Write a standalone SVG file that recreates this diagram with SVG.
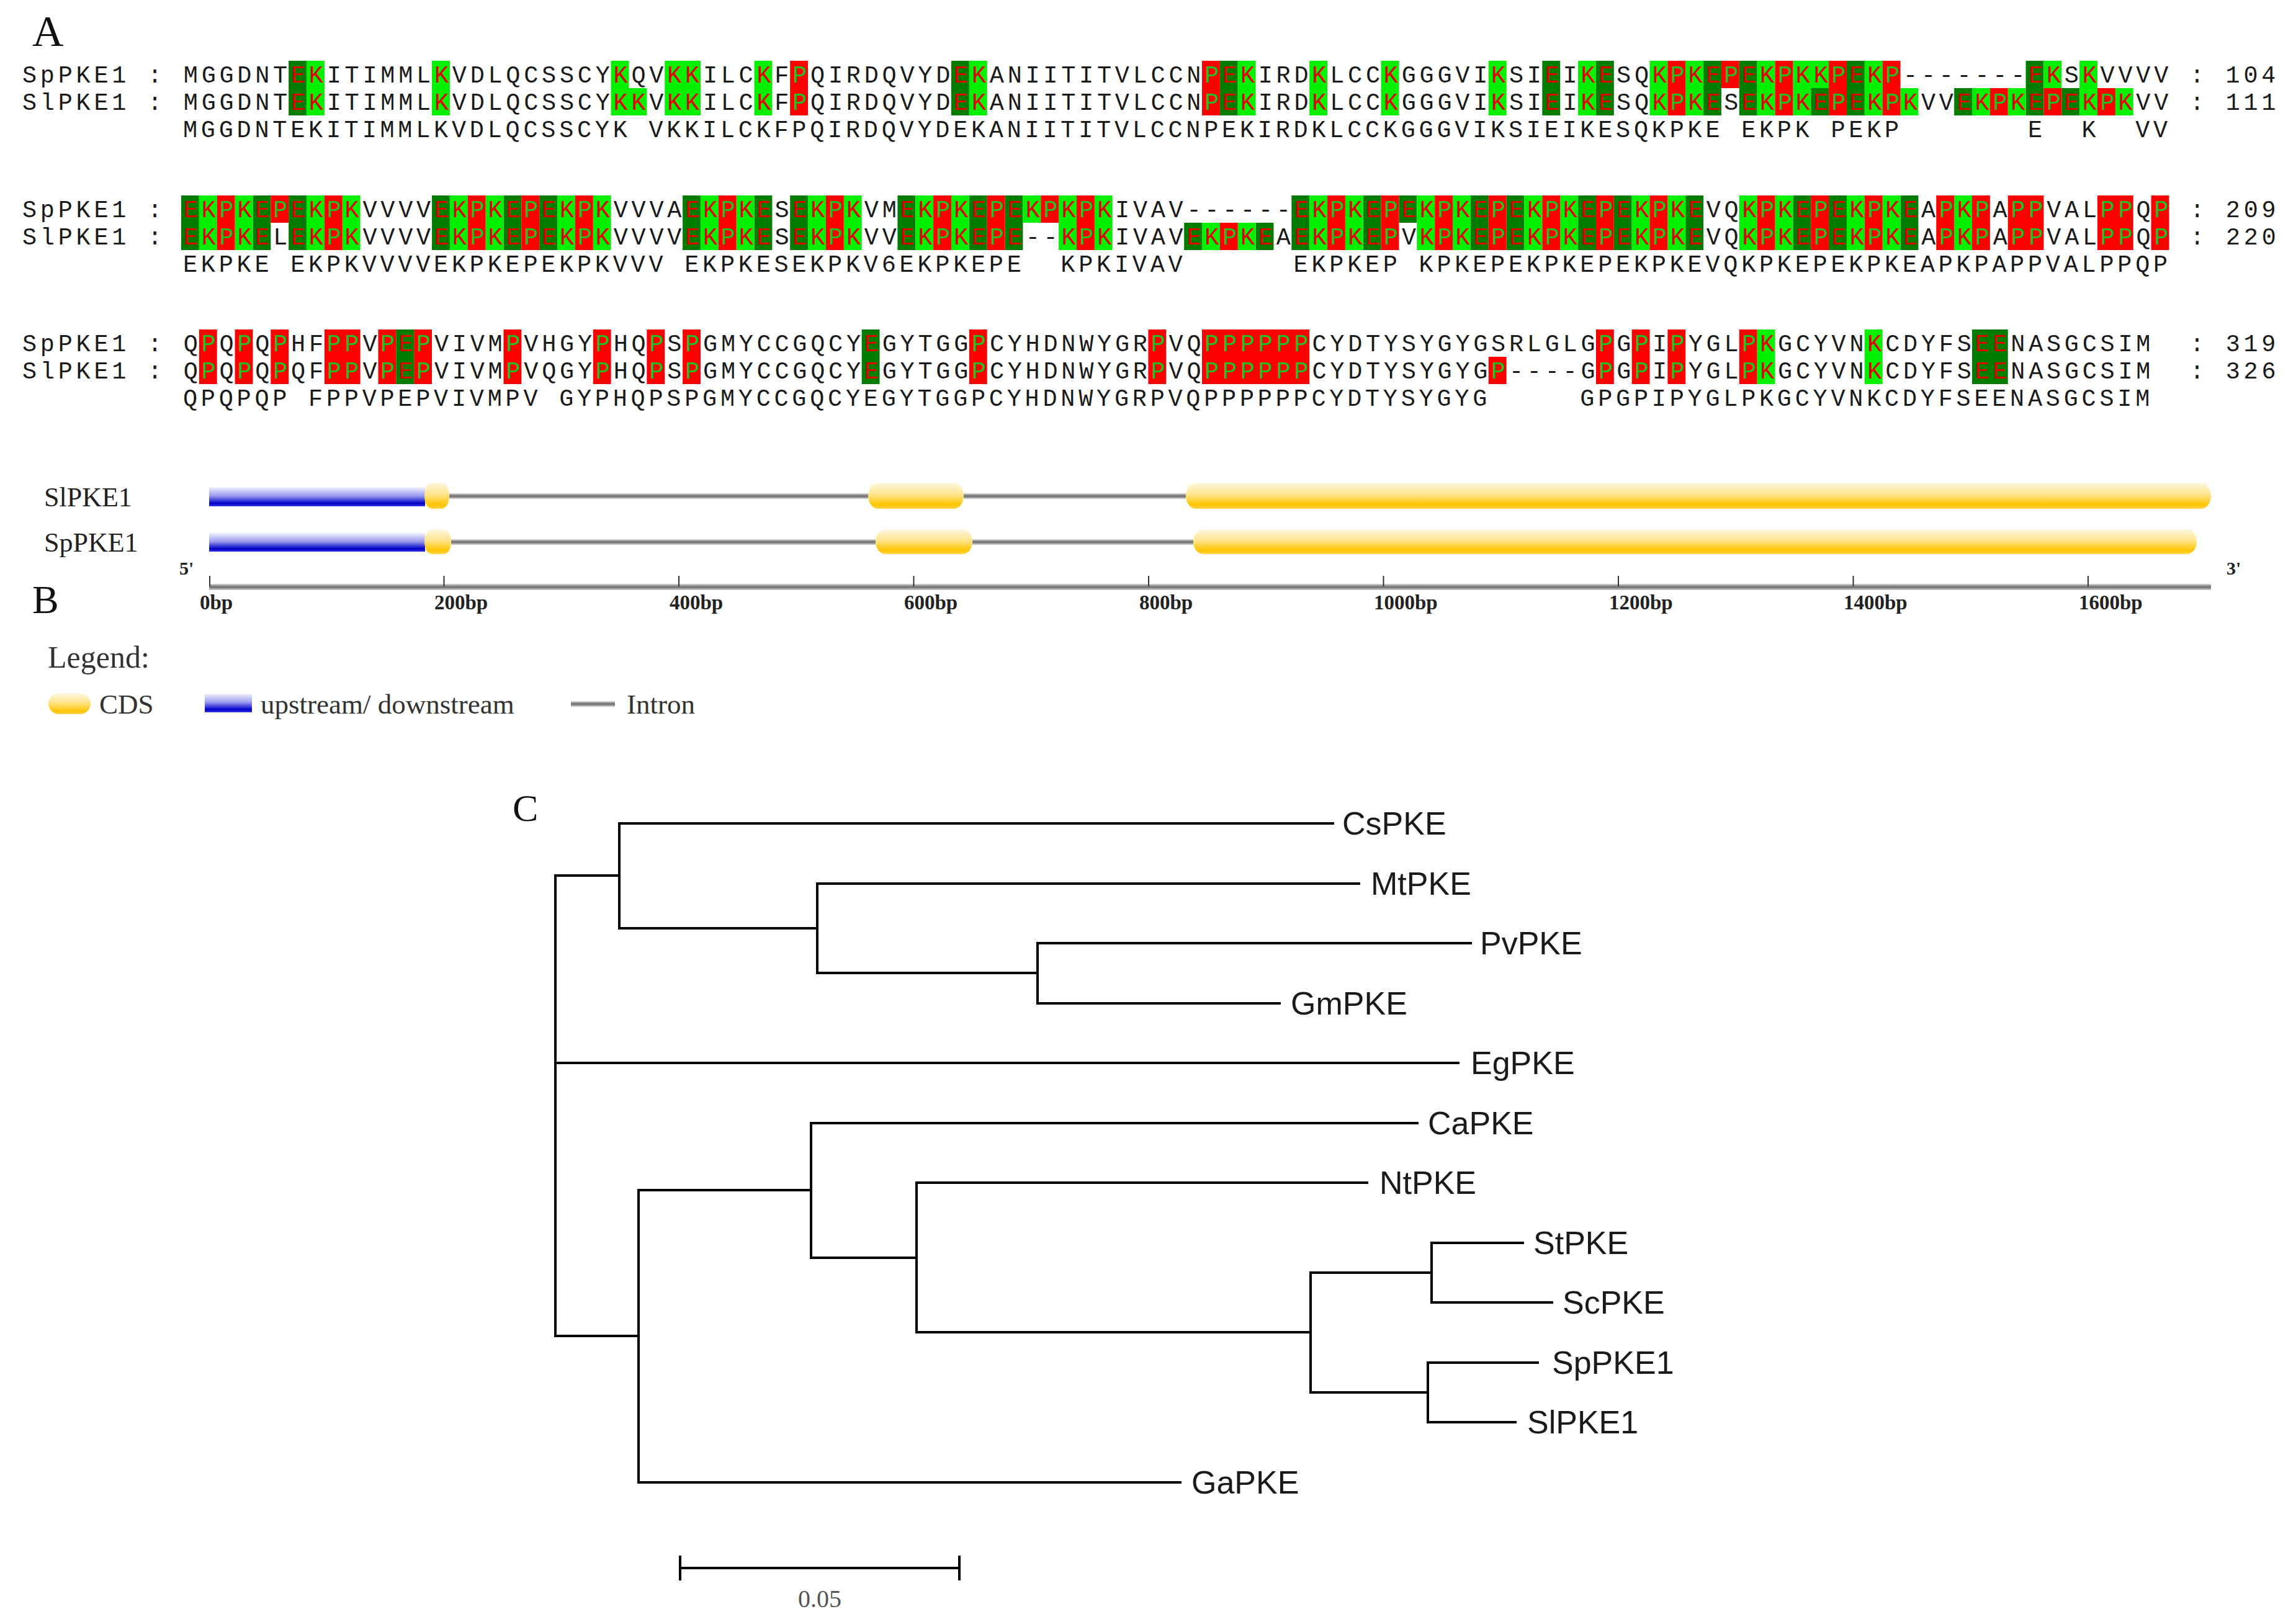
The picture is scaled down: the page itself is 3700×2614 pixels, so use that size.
<svg xmlns="http://www.w3.org/2000/svg" width="3700" height="2614" viewBox="0 0 3700 2614">
<defs>
<linearGradient id="gCds" x1="0" y1="0" x2="0" y2="1">
<stop offset="0" stop-color="#fff7e0"/><stop offset="0.45" stop-color="#ffe58c"/><stop offset="0.85" stop-color="#ffc400"/><stop offset="1" stop-color="#ffd650"/>
</linearGradient>
<linearGradient id="gUp" x1="0" y1="0" x2="0" y2="1">
<stop offset="0" stop-color="#f2f2ff"/><stop offset="0.45" stop-color="#9c9cf0"/><stop offset="0.85" stop-color="#0000c8"/><stop offset="1" stop-color="#3a3ae0"/>
</linearGradient>
<linearGradient id="gInt" x1="0" y1="0" x2="0" y2="1">
<stop offset="0" stop-color="#dadada"/><stop offset="0.5" stop-color="#6a6a6a"/><stop offset="1" stop-color="#d2d2d2"/>
</linearGradient>
<style>
.mono{font-family:"Liberation Mono","DejaVu Sans Mono",monospace;font-size:38.5px;letter-spacing:5.76px;fill:#1a1a1a}
.r{fill:#e00000}
.g{fill:#20c020}
.dg{fill:#007c00}
.bg{fill:#00f000}
.rd{fill:#ff0000}
.ser{font-family:"Liberation Serif","Times New Roman",serif}
.tl{font-family:"Liberation Sans",Arial,sans-serif;font-size:52px;fill:#1a1a1a}
.br{fill:none;stroke:#000;stroke-width:4;stroke-linecap:square}
.tk{stroke:#333;stroke-width:2}
.bp{font-family:"Liberation Serif","Times New Roman",serif;font-size:33px;font-weight:bold;fill:#222}
.lg{font-family:"Liberation Serif","Times New Roman",serif;font-size:45px;fill:#333}
</style>
</defs>
<rect width="3700" height="2614" fill="#fff"/>

<g id="panelA">
<text class="ser" x="52" y="74" font-size="70" fill="#111">A</text>
<g id="boxes-row1" transform="translate(292 98) scale(28.86 1)">
<path class="dg" d="M6 0h1v88h-1zM43 0h1v88h-1zM58 0h1v88h-1zM76 0h1v88h-1zM79 0h1v88h-1zM85 0h1v88h-1zM87 0h1v88h-1zM93 0h1v88h-1zM103 0h1v88h-1zM91 44h1v44h-1zM99 44h1v44h-1zM105 44h1v44h-1z"/>
<path class="bg" d="M7 0h1v88h-1zM14 0h1v88h-1zM24 0h1v88h-1zM27 0h2v88h-2zM32 0h1v88h-1zM44 0h1v88h-1zM59 0h1v88h-1zM63 0h1v88h-1zM67 0h1v88h-1zM73 0h1v88h-1zM78 0h1v88h-1zM82 0h1v88h-1zM84 0h1v88h-1zM88 0h1v88h-1zM90 0h1v88h-1zM94 0h1v88h-1zM106 0h1v88h-1zM91 0h1v44h-1zM104 0h1v44h-1zM25 44h1v44h-1zM96 44h1v44h-1zM100 44h1v44h-1zM102 44h1v44h-1zM108 44h1v44h-1z"/>
<path class="rd" d="M34 0h1v88h-1zM57 0h1v88h-1zM83 0h1v88h-1zM89 0h1v88h-1zM92 0h1v88h-1zM95 0h1v88h-1zM86 0h1v44h-1zM101 44h1v44h-1zM104 44h1v44h-1zM107 44h1v44h-1z"/>
</g>
<g id="boxes-row2" transform="translate(292 315) scale(28.86 1)">
<path class="dg" d="M0 0h1v88h-1zM4 0h1v88h-1zM6 0h1v88h-1zM14 0h1v88h-1zM18 0h1v88h-1zM20 0h1v88h-1zM28 0h1v88h-1zM32 0h1v88h-1zM34 0h1v88h-1zM40 0h1v88h-1zM44 0h1v88h-1zM46 0h1v88h-1zM62 0h1v88h-1zM66 0h1v88h-1zM72 0h1v88h-1zM74 0h1v88h-1zM78 0h1v88h-1zM80 0h1v88h-1zM84 0h1v88h-1zM90 0h1v88h-1zM92 0h1v88h-1zM96 0h1v88h-1zM68 0h1v44h-1zM56 44h1v44h-1zM60 44h1v44h-1z"/>
<path class="bg" d="M1 0h1v88h-1zM3 0h1v88h-1zM7 0h1v88h-1zM9 0h1v88h-1zM15 0h1v88h-1zM17 0h1v88h-1zM21 0h1v88h-1zM23 0h1v88h-1zM29 0h1v88h-1zM31 0h1v88h-1zM35 0h1v88h-1zM37 0h1v88h-1zM41 0h1v88h-1zM43 0h1v88h-1zM49 0h1v88h-1zM51 0h1v88h-1zM63 0h1v88h-1zM65 0h1v88h-1zM69 0h1v88h-1zM71 0h1v88h-1zM75 0h1v88h-1zM77 0h1v88h-1zM81 0h1v88h-1zM83 0h1v88h-1zM87 0h1v88h-1zM89 0h1v88h-1zM93 0h1v88h-1zM95 0h1v88h-1zM99 0h1v88h-1zM47 0h1v44h-1zM57 44h1v44h-1zM59 44h1v44h-1z"/>
<path class="rd" d="M2 0h1v88h-1zM8 0h1v88h-1zM16 0h1v88h-1zM19 0h1v88h-1zM22 0h1v88h-1zM30 0h1v88h-1zM36 0h1v88h-1zM42 0h1v88h-1zM45 0h1v88h-1zM50 0h1v88h-1zM64 0h1v88h-1zM67 0h1v88h-1zM70 0h1v88h-1zM73 0h1v88h-1zM76 0h1v88h-1zM79 0h1v88h-1zM82 0h1v88h-1zM88 0h1v88h-1zM91 0h1v88h-1zM94 0h1v88h-1zM98 0h1v88h-1zM100 0h1v88h-1zM102 0h2v88h-2zM107 0h2v88h-2zM110 0h1v88h-1zM5 0h1v44h-1zM48 0h1v44h-1zM58 44h1v44h-1z"/>
</g>
<g id="boxes-row3" transform="translate(292 531) scale(28.86 1)">
<path class="rd" d="M1 0h1v88h-1zM3 0h1v88h-1zM5 0h1v88h-1zM8 0h2v88h-2zM11 0h1v88h-1zM13 0h1v88h-1zM18 0h1v88h-1zM23 0h1v88h-1zM26 0h1v88h-1zM28 0h1v88h-1zM44 0h1v88h-1zM54 0h1v88h-1zM57 0h6v88h-6zM79 0h1v88h-1zM81 0h1v88h-1zM83 0h1v88h-1zM87 0h1v88h-1zM73 44h1v44h-1z"/>
<path class="dg" d="M12 0h1v88h-1zM38 0h1v88h-1zM100 0h2v88h-2z"/>
<path class="bg" d="M88 0h1v88h-1zM94 0h1v88h-1z"/>
</g>
<g id="seq-row1">
<text class="mono" x="36" y="133" xml:space="preserve">SpPKE1 : MGGDNT<tspan class="r">EK</tspan>ITIMML<tspan class="r">K</tspan>VDLQCSSCY<tspan class="r">K</tspan>QV<tspan class="r">KK</tspan>ILC<tspan class="r">K</tspan>F<tspan class="g">P</tspan>QIRDQVYD<tspan class="r">EK</tspan>ANIITITVLCCN<tspan class="g">P</tspan><tspan class="r">EK</tspan>IRD<tspan class="r">K</tspan>LCC<tspan class="r">K</tspan>GGGVI<tspan class="r">K</tspan>SI<tspan class="r">E</tspan>I<tspan class="r">KE</tspan>SQ<tspan class="r">K</tspan><tspan class="g">P</tspan><tspan class="r">KE</tspan><tspan class="g">P</tspan><tspan class="r">EK</tspan><tspan class="g">P</tspan><tspan class="r">KK</tspan><tspan class="g">P</tspan><tspan class="r">EK</tspan><tspan class="g">P</tspan>-------<tspan class="r">EK</tspan>S<tspan class="r">K</tspan>VVVV : 104</text>
<text class="mono" x="36" y="177" xml:space="preserve">SlPKE1 : MGGDNT<tspan class="r">EK</tspan>ITIMML<tspan class="r">K</tspan>VDLQCSSCY<tspan class="r">KK</tspan>V<tspan class="r">KK</tspan>ILC<tspan class="r">K</tspan>F<tspan class="g">P</tspan>QIRDQVYD<tspan class="r">EK</tspan>ANIITITVLCCN<tspan class="g">P</tspan><tspan class="r">EK</tspan>IRD<tspan class="r">K</tspan>LCC<tspan class="r">K</tspan>GGGVI<tspan class="r">K</tspan>SI<tspan class="r">E</tspan>I<tspan class="r">KE</tspan>SQ<tspan class="r">K</tspan><tspan class="g">P</tspan><tspan class="r">KE</tspan>S<tspan class="r">EK</tspan><tspan class="g">P</tspan><tspan class="r">KE</tspan><tspan class="g">P</tspan><tspan class="r">EK</tspan><tspan class="g">P</tspan><tspan class="r">K</tspan>VV<tspan class="r">EK</tspan><tspan class="g">P</tspan><tspan class="r">KE</tspan><tspan class="g">P</tspan><tspan class="r">EK</tspan><tspan class="g">P</tspan><tspan class="r">K</tspan>VV : 111</text>
<text class="mono" x="295" y="221" xml:space="preserve">MGGDNTEKITIMMLKVDLQCSSCYK VKKILCKFPQIRDQVYDEKANIITITVLCCNPEKIRDKLCCKGGGVIKSIEIKESQKPKE EKPK PEKP       E  K  VV</text>
</g>
<g id="seq-row2">
<text class="mono" x="36" y="350" xml:space="preserve">SpPKE1 : <tspan class="r">EK</tspan><tspan class="g">P</tspan><tspan class="r">KE</tspan><tspan class="g">P</tspan><tspan class="r">EK</tspan><tspan class="g">P</tspan><tspan class="r">K</tspan>VVVV<tspan class="r">EK</tspan><tspan class="g">P</tspan><tspan class="r">KE</tspan><tspan class="g">P</tspan><tspan class="r">EK</tspan><tspan class="g">P</tspan><tspan class="r">K</tspan>VVVA<tspan class="r">EK</tspan><tspan class="g">P</tspan><tspan class="r">KE</tspan>S<tspan class="r">EK</tspan><tspan class="g">P</tspan><tspan class="r">K</tspan>VM<tspan class="r">EK</tspan><tspan class="g">P</tspan><tspan class="r">KE</tspan><tspan class="g">P</tspan><tspan class="r">EK</tspan><tspan class="g">P</tspan><tspan class="r">K</tspan><tspan class="g">P</tspan><tspan class="r">K</tspan>IVAV------<tspan class="r">EK</tspan><tspan class="g">P</tspan><tspan class="r">KE</tspan><tspan class="g">P</tspan><tspan class="r">EK</tspan><tspan class="g">P</tspan><tspan class="r">KE</tspan><tspan class="g">P</tspan><tspan class="r">EK</tspan><tspan class="g">P</tspan><tspan class="r">KE</tspan><tspan class="g">P</tspan><tspan class="r">EK</tspan><tspan class="g">P</tspan><tspan class="r">KE</tspan>VQ<tspan class="r">K</tspan><tspan class="g">P</tspan><tspan class="r">KE</tspan><tspan class="g">P</tspan><tspan class="r">EK</tspan><tspan class="g">P</tspan><tspan class="r">KE</tspan>A<tspan class="g">P</tspan><tspan class="r">K</tspan><tspan class="g">P</tspan>A<tspan class="g">PP</tspan>VAL<tspan class="g">PP</tspan>Q<tspan class="g">P</tspan> : 209</text>
<text class="mono" x="36" y="394" xml:space="preserve">SlPKE1 : <tspan class="r">EK</tspan><tspan class="g">P</tspan><tspan class="r">KE</tspan>L<tspan class="r">EK</tspan><tspan class="g">P</tspan><tspan class="r">K</tspan>VVVV<tspan class="r">EK</tspan><tspan class="g">P</tspan><tspan class="r">KE</tspan><tspan class="g">P</tspan><tspan class="r">EK</tspan><tspan class="g">P</tspan><tspan class="r">K</tspan>VVVV<tspan class="r">EK</tspan><tspan class="g">P</tspan><tspan class="r">KE</tspan>S<tspan class="r">EK</tspan><tspan class="g">P</tspan><tspan class="r">K</tspan>VV<tspan class="r">EK</tspan><tspan class="g">P</tspan><tspan class="r">KE</tspan><tspan class="g">P</tspan><tspan class="r">E</tspan>--<tspan class="r">K</tspan><tspan class="g">P</tspan><tspan class="r">K</tspan>IVAV<tspan class="r">EK</tspan><tspan class="g">P</tspan><tspan class="r">KE</tspan>A<tspan class="r">EK</tspan><tspan class="g">P</tspan><tspan class="r">KE</tspan><tspan class="g">P</tspan>V<tspan class="r">K</tspan><tspan class="g">P</tspan><tspan class="r">KE</tspan><tspan class="g">P</tspan><tspan class="r">EK</tspan><tspan class="g">P</tspan><tspan class="r">KE</tspan><tspan class="g">P</tspan><tspan class="r">EK</tspan><tspan class="g">P</tspan><tspan class="r">KE</tspan>VQ<tspan class="r">K</tspan><tspan class="g">P</tspan><tspan class="r">KE</tspan><tspan class="g">P</tspan><tspan class="r">EK</tspan><tspan class="g">P</tspan><tspan class="r">KE</tspan>A<tspan class="g">P</tspan><tspan class="r">K</tspan><tspan class="g">P</tspan>A<tspan class="g">PP</tspan>VAL<tspan class="g">PP</tspan>Q<tspan class="g">P</tspan> : 220</text>
<text class="mono" x="295" y="438" xml:space="preserve">EKPKE EKPKVVVVEKPKEPEKPKVVV EKPKESEKPKV6EKPKEPE  KPKIVAV      EKPKEP KPKEPEKPKEPEKPKEVQKPKEPEKPKEAPKPAPPVALPPQP</text>
</g>
<g id="seq-row3">
<text class="mono" x="36" y="566" xml:space="preserve">SpPKE1 : Q<tspan class="g">P</tspan>Q<tspan class="g">P</tspan>Q<tspan class="g">P</tspan>HF<tspan class="g">PP</tspan>V<tspan class="g">P</tspan><tspan class="r">E</tspan><tspan class="g">P</tspan>VIVM<tspan class="g">P</tspan>VHGY<tspan class="g">P</tspan>HQ<tspan class="g">P</tspan>S<tspan class="g">P</tspan>GMYCCGQCY<tspan class="r">E</tspan>GYTGG<tspan class="g">P</tspan>CYHDNWYGR<tspan class="g">P</tspan>VQ<tspan class="g">PPPPPP</tspan>CYDTYSYGYGSRLGLG<tspan class="g">P</tspan>G<tspan class="g">P</tspan>I<tspan class="g">P</tspan>YGL<tspan class="g">P</tspan><tspan class="r">K</tspan>GCYVN<tspan class="r">K</tspan>CDYFS<tspan class="r">EE</tspan>NASGCSIM  : 319</text>
<text class="mono" x="36" y="610" xml:space="preserve">SlPKE1 : Q<tspan class="g">P</tspan>Q<tspan class="g">P</tspan>Q<tspan class="g">P</tspan>QF<tspan class="g">PP</tspan>V<tspan class="g">P</tspan><tspan class="r">E</tspan><tspan class="g">P</tspan>VIVM<tspan class="g">P</tspan>VQGY<tspan class="g">P</tspan>HQ<tspan class="g">P</tspan>S<tspan class="g">P</tspan>GMYCCGQCY<tspan class="r">E</tspan>GYTGG<tspan class="g">P</tspan>CYHDNWYGR<tspan class="g">P</tspan>VQ<tspan class="g">PPPPPP</tspan>CYDTYSYGYG<tspan class="g">P</tspan>----G<tspan class="g">P</tspan>G<tspan class="g">P</tspan>I<tspan class="g">P</tspan>YGL<tspan class="g">P</tspan><tspan class="r">K</tspan>GCYVN<tspan class="r">K</tspan>CDYFS<tspan class="r">EE</tspan>NASGCSIM  : 326</text>
<text class="mono" x="295" y="654" xml:space="preserve">QPQPQP FPPVPEPVIVMPV GYPHQPSPGMYCCGQCYEGYTGGPCYHDNWYGRPVQPPPPPPCYDTYSYGYG     GPGPIPYGLPKGCYVNKCDYFSEENASGCSIM</text>
</g>
</g>

<g id="panelB">
<g id="gene-SlPKE1">
<text class="ser" x="71" y="816" font-size="44" fill="#222">SlPKE1</text>
<rect x="724" y="795" width="675" height="9" fill="url(#gInt)"/>
<rect x="1553" y="795" width="358" height="9" fill="url(#gInt)"/>
<rect x="337" y="785" width="348" height="31" fill="url(#gUp)"/>
<rect x="684" y="778" width="40" height="42" rx="12" ry="21" fill="url(#gCds)"/>
<rect x="1399" y="778" width="154" height="42" rx="16" ry="21" fill="url(#gCds)"/>
<rect x="1911" y="778" width="1652" height="42" rx="16" ry="21" fill="url(#gCds)"/>
</g>
<g id="gene-SpPKE1">
<text class="ser" x="71" y="889" font-size="44" fill="#222">SpPKE1</text>
<rect x="727" y="869" width="684" height="9" fill="url(#gInt)"/>
<rect x="1567" y="869" width="356" height="9" fill="url(#gInt)"/>
<rect x="337" y="859" width="348" height="30" fill="url(#gUp)"/>
<rect x="684" y="853" width="43" height="40" rx="12" ry="20" fill="url(#gCds)"/>
<rect x="1411" y="853" width="156" height="40" rx="16" ry="20" fill="url(#gCds)"/>
<rect x="1923" y="853" width="1617" height="40" rx="16" ry="20" fill="url(#gCds)"/>
</g>
<g id="scale-axis">
<text class="ser" x="289" y="926" font-size="30" font-weight="bold" fill="#222">5'</text>
<text class="ser" x="3588" y="926" font-size="30" font-weight="bold" fill="#222">3'</text>
<rect x="337" y="941" width="3226" height="10" fill="url(#gInt)"/>
<path class="tk" d="M338 928V945M715.5 928V945M1094 928V945M1472.5 928V945M1851 928V945M2229.5 928V945M2608 928V945M2986.5 928V945M3365 928V945"/>
<text class="bp" x="322" y="982">0bp</text>
<text class="bp" x="700" y="982">200bp</text>
<text class="bp" x="1079" y="982">400bp</text>
<text class="bp" x="1457" y="982">600bp</text>
<text class="bp" x="1836" y="982">800bp</text>
<text class="bp" x="2214" y="982">1000bp</text>
<text class="bp" x="2593" y="982">1200bp</text>
<text class="bp" x="2971" y="982">1400bp</text>
<text class="bp" x="3350" y="982">1600bp</text>
</g>
<text class="ser" x="52" y="988" font-size="64" fill="#111">B</text>
<g id="legend">
<text class="ser" x="77" y="1076" font-size="50" fill="#333">Legend:</text>
<rect x="78" y="1117" width="68" height="34" rx="17" ry="17" fill="url(#gCds)"/>
<text class="lg" x="160" y="1150">CDS</text>
<rect x="330" y="1118" width="76" height="30" fill="url(#gUp)"/>
<text class="lg" x="420" y="1150">upstream/ downstream</text>
<rect x="920" y="1130" width="71" height="9" fill="url(#gInt)"/>
<text class="lg" x="1010" y="1150">Intron</text>
</g>
</g>

<g id="panelC">
<text class="ser" x="826" y="1323" font-size="62" fill="#111">C</text>
<g id="connectors">
<path class="br" d="M895 1411V2153 M895 1411H998 M998 1327V1496 M998 1327H2148 M998 1496H1317 M1317 1424V1568 M1317 1424H2190 M1317 1568H1672 M1672 1520V1617 M1672 1520H2370 M1672 1617H2062 M895 1713H2350 M895 2153H1029 M1029 1918V2389 M1029 2389H1902 M1029 1918H1307 M1307 1810V2027 M1307 1810H2284 M1307 2027H1477 M1477 1906V2147 M1477 1906H2203 M1477 2147H2112 M2112 2051V2244 M2112 2051H2307 M2307 2003V2099 M2307 2003H2454 M2307 2099H2501 M2112 2244H2301 M2301 2196V2292 M2301 2196H2478 M2301 2292H2442"/>
</g>
<g id="leaf-CsPKE"><text class="tl" x="2163" y="1345">CsPKE</text></g>
<g id="leaf-MtPKE"><text class="tl" x="2209" y="1442">MtPKE</text></g>
<g id="leaf-PvPKE"><text class="tl" x="2385" y="1538">PvPKE</text></g>
<g id="leaf-GmPKE"><text class="tl" x="2080" y="1635">GmPKE</text></g>
<g id="leaf-EgPKE"><text class="tl" x="2370" y="1731">EgPKE</text></g>
<g id="leaf-CaPKE"><text class="tl" x="2301" y="1828">CaPKE</text></g>
<g id="leaf-NtPKE"><text class="tl" x="2223" y="1924">NtPKE</text></g>
<g id="leaf-StPKE"><text class="tl" x="2471" y="2021">StPKE</text></g>
<g id="leaf-ScPKE"><text class="tl" x="2518" y="2117">ScPKE</text></g>
<g id="leaf-SpPKE1"><text class="tl" x="2501" y="2214">SpPKE1</text></g>
<g id="leaf-SlPKE1"><text class="tl" x="2461" y="2310">SlPKE1</text></g>
<g id="leaf-GaPKE"><text class="tl" x="1920" y="2407">GaPKE</text></g>
<g id="scalebar">
<path class="br" d="M1096 2527H1546 M1096 2509V2545 M1546 2509V2545"/>
<text class="ser" x="1321" y="2590" font-size="40" fill="#555" text-anchor="middle">0.05</text>
</g>
</g>
</svg>
